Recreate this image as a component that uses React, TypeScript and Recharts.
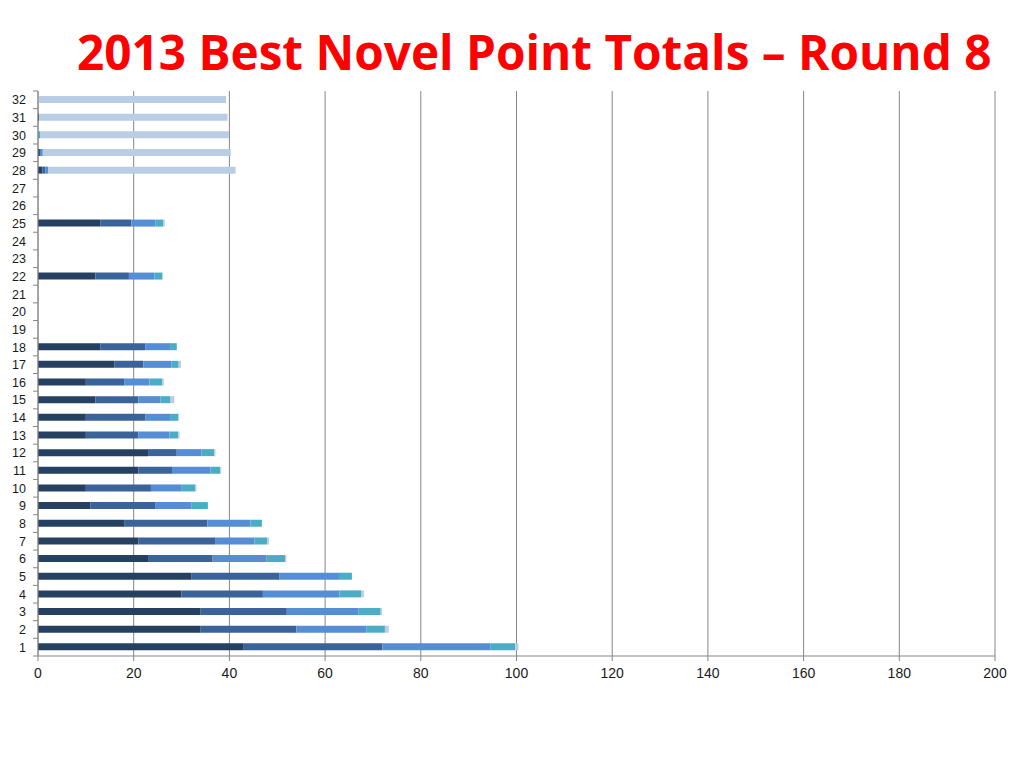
import { BarChart, Bar, XAxis, YAxis, CartesianGrid } from "recharts";

const categories = ["1", "2", "3", "4", "5", "6", "7", "8", "9", "10", "11", "12", "13", "14", "15", "16",
  "17", "18", "19", "20", "21", "22", "23", "24", "25", "26", "27", "28", "29", "30", "31", "32"];

// points per round segment, index 0 = entry 1
const seg1 = [43, 34, 34, 30, 32, 23, 21, 18, 11, 10, 21, 23, 10, 10, 12, 10, 16, 13, 0, 0, 0, 12, 0, 0, 13, 0, 0, 0.9, 0.4, 0, 0.2, 0];
const seg2 = [29, 20, 18, 17, 18.5, 13.5, 16, 17.4, 13.6, 13.6, 7, 6, 11, 12.5, 9, 8, 6, 9.4, 0, 0, 0, 7, 0, 0, 6.5, 0, 0, 0.6, 0, 0, 0, 0];
const seg3 = [22.5, 14.6, 15, 16, 12.4, 11.3, 8.2, 9, 7.5, 6.3, 8, 5.2, 6.5, 5.1, 4.6, 5.3, 5.9, 5.2, 0, 0, 0, 5.3, 0, 0, 5, 0, 0, 0.6, 0.6, 0, 0, 0];
const seg4 = [5.2, 3.9, 4.6, 4.5, 2.7, 3.9, 2.7, 2.4, 3.4, 3, 2.1, 2.6, 1.8, 1.7, 2.1, 2.7, 1.5, 1.4, 0, 0, 0, 1.7, 0, 0, 1.7, 0, 0, 0, 0, 0.5, 0, 0];
const seg5 = [0.7, 0.8, 0.3, 0.6, 0, 0.2, 0.4, 0, 0, 0.2, 0.2, 0.3, 0.3, 0.2, 0.8, 0.3, 0.5, 0, 0, 0, 0, 0, 0, 0, 0.3, 0, 0, 39.2, 39.3, 39.4, 39.4, 39.3];

const xTicks = [0, 20, 40, 60, 80, 100, 120, 140, 160, 180, 200];

const COLORS = ["#254061", "#3A639A", "#558ED5", "#4BACC6", "#B9CDE5"];

const data = categories.map((name, i) => ({
  name,
  s1: seg1[i],
  s2: seg2[i],
  s3: seg3[i],
  s4: seg4[i],
  s5: seg5[i],
}));

const PLOT_TOP = 91;
const PLOT_BOTTOM = 656;
const AXIS_X = 38;
const BAND = (PLOT_BOTTOM - PLOT_TOP) / categories.length;

const YTick = (props: any) => {
  const { y, payload } = props;
  return (
    <g>
      <line x1={AXIS_X - 5} x2={AXIS_X} y1={y + BAND / 2} y2={y + BAND / 2} stroke="#868686" />
      {payload.value === "32" && (
        <line x1={AXIS_X - 5} x2={AXIS_X} y1={y - BAND / 2} y2={y - BAND / 2} stroke="#868686" />
      )}
      <text x={26} y={y} dy={4.5} textAnchor="end" fontSize={12.5} fill="#1a1a1a" fontFamily="Liberation Sans, Arial, sans-serif">
        {payload.value}
      </text>
    </g>
  );
};

export default function App() {
  return (
    <div style={{ position: "absolute", left: 0, top: 0, width: 1024, height: 768, background: "#fff" }}>
      <div
        style={{
          position: "absolute",
          left: 77,
          top: 24,
          fontFamily: "'Open Sans', sans-serif",
          fontWeight: 700,
          fontSize: 47.7,
          lineHeight: "56px",
          color: "#FF0000",
          whiteSpace: "nowrap",
        }}
      >
        2013 Best Novel Point Totals – Round 8
      </div>
      <BarChart
        width={1024}
        height={768}
        data={data}
        layout="vertical"
        margin={{ top: PLOT_TOP, right: 29, bottom: 768 - PLOT_BOTTOM - 30, left: 0 }}
        barSize={7}
      >
        <CartesianGrid horizontal={false} stroke="#868686" />
        <XAxis
          type="number"
          domain={[0, 200]}
          ticks={xTicks}
          height={30}
          stroke="#868686"
          tickSize={5}
          tickMargin={7}
          tick={{ fontSize: 14, fill: "#1a1a1a", fontFamily: "Liberation Sans, Arial, sans-serif" }}
          interval={0}
        />
        <YAxis
          type="category"
          dataKey="name"
          reversed
          width={AXIS_X}
          stroke="#868686"
          tickLine={false}
          tick={<YTick />}
          interval={0}
        />
        <Bar dataKey="s1" stackId="a" fill={COLORS[0]} isAnimationActive={false} />
        <Bar dataKey="s2" stackId="a" fill={COLORS[1]} isAnimationActive={false} />
        <Bar dataKey="s3" stackId="a" fill={COLORS[2]} isAnimationActive={false} />
        <Bar dataKey="s4" stackId="a" fill={COLORS[3]} isAnimationActive={false} />
        <Bar dataKey="s5" stackId="a" fill={COLORS[4]} isAnimationActive={false} />
      </BarChart>
    </div>
  );
}
